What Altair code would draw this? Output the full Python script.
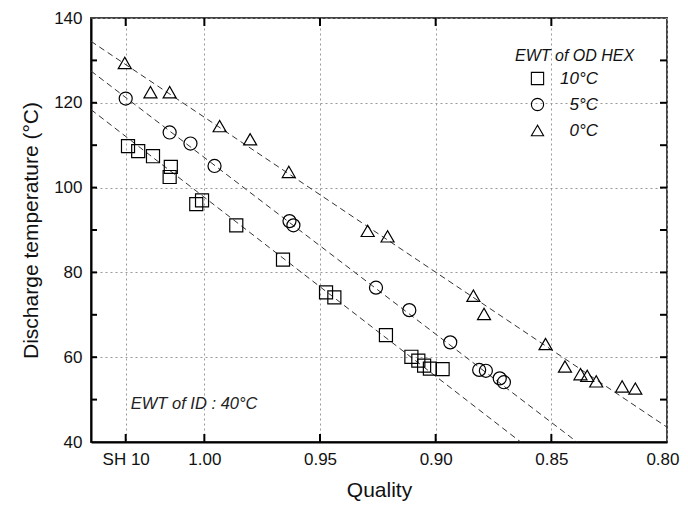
import altair as alt
import pandas as pd

# ---- data ----
series_labels = ["10°C", "5°C", "0°C"]

sq_q = [1.033, 1.0286, 1.0222, 1.0145, 1.015, 1.0035, 1.001, 0.9862, 0.966,
        0.9474, 0.9438, 0.9215, 0.9105, 0.9075, 0.905, 0.9025, 0.897]
sq_t = [109.8, 108.6, 107.4, 104.9, 102.5, 96.1, 97.0, 91.1, 83.0,
        75.3, 74.1, 65.2, 60.1, 59.2, 58.0, 57.3, 57.2]

ci_q = [1.034, 1.015, 1.006, 0.9956, 0.9632, 0.9615, 0.9258, 0.9114, 0.8937,
        0.8812, 0.8783, 0.8723, 0.8705]
ci_t = [121.0, 113.0, 110.4, 105.1, 92.1, 91.1, 76.4, 71.1, 63.5,
        57.0, 56.8, 55.0, 54.1]

tr_q = [1.0344, 1.0233, 1.015, 0.9934, 0.9802, 0.9635, 0.9294, 0.9208, 0.8837,
        0.8791, 0.8525, 0.8441, 0.8374, 0.8345, 0.8306, 0.8194, 0.8137]
tr_t = [129.4, 122.5, 122.5, 114.5, 111.4, 103.7, 89.8, 88.5, 74.5,
        70.2, 63.1, 57.8, 56.0, 55.6, 54.3, 53.1, 52.6]

# dashed fit lines (end points)
fit_q = [1.049, 0.80]
fit_sq = [118.4, 13.3]
fit_ci = [127.5, 23.8]
fit_tr = [134.5, 43.5]

x_tick_values = [1.034, 1.0, 0.95, 0.90, 0.85, 0.80]
y_tick_values = [40, 60, 80, 100, 120, 140]
y_minor_values = [50, 60, 70, 80, 90, 100, 110, 120, 130]

annotation_text = ["EWT of ID : 40°C"]
annotation_q = [1.0318]
annotation_t = [49.0]

# ---- tables ----
pts = pd.DataFrame({
    "q": sq_q + ci_q + tr_q,
    "t": sq_t + ci_t + tr_t,
    "s": [series_labels[0]] * len(sq_q) + [series_labels[1]] * len(ci_q) + [series_labels[2]] * len(tr_q),
})
fits = pd.DataFrame({
    "q": fit_q * 3,
    "t": fit_sq + fit_ci + fit_tr,
    "s": [series_labels[0]] * 2 + [series_labels[1]] * 2 + [series_labels[2]] * 2,
})
xt = pd.DataFrame({"q": x_tick_values[:-1]})
yt = pd.DataFrame({"t": y_minor_values})
ann = pd.DataFrame({"q": annotation_q, "t": annotation_t, "txt": annotation_text})

W, H = 576, 424
FONT = "Liberation Sans"

xs = alt.Scale(domain=[0.80, 1.049], reverse=True, nice=False, zero=False)
ys = alt.Scale(domain=[40, 140], nice=False, zero=False)

xaxis = alt.Axis(
    values=x_tick_values,
    labelExpr="datum.value > 1.01 ? 'SH 10' : format(datum.value, '.2f')",
    title="Quality", grid=True, ticks=False, labelFlush=True, labelFlushOffset=12,
    labelPadding=9, titlePadding=12,
)
yaxis = alt.Axis(
    values=y_tick_values, format="d",
    title="Discharge temperature (°C)", grid=True, ticks=False, labelFlush=False,
    labelPadding=9, titlePadding=12,
)

leg = alt.Legend(title="EWT of OD HEX", orient="none", legendX=424, legendY=30,
                 titleFontStyle="italic", titleFontWeight="normal", titleFontSize=16,
                 labelFontStyle="italic", labelFontSize=17, symbolSize=150,
                 symbolStrokeColor="black", symbolStrokeWidth=1.1, symbolOffset=14,
                 rowPadding=8, labelOffset=52, labelAlign="right", titlePadding=6,
                 titleFont=FONT, labelFont=FONT,
                 titleColor="#111", labelColor="#111")

points = alt.Chart(pts).mark_point(filled=False, color="black", strokeWidth=1.2, opacity=1, size=170).encode(
    x=alt.X("q:Q", scale=xs, axis=xaxis),
    y=alt.Y("t:Q", scale=ys, axis=yaxis),
    shape=alt.Shape("s:N", scale=alt.Scale(domain=series_labels, range=["square", "circle", "triangle-up"]),
                    sort=series_labels, legend=leg),
)

lines = alt.Chart(fits).mark_line(color="#333333", strokeDash=[6, 4], strokeWidth=1, clip=True).encode(
    x=alt.X("q:Q", scale=xs, axis=xaxis),
    y=alt.Y("t:Q", scale=ys, axis=yaxis),
    detail="s:N",
)

top_ticks = alt.Chart(xt).mark_rule(color="black", strokeWidth=2).encode(
    x=alt.X("q:Q", scale=xs, axis=xaxis), y=alt.value(0), y2=alt.value(8))
bot_ticks = alt.Chart(xt).mark_rule(color="black", strokeWidth=2).encode(
    x=alt.X("q:Q", scale=xs, axis=xaxis), y=alt.value(H), y2=alt.value(H - 8))
left_ticks = alt.Chart(yt).mark_rule(color="black", strokeWidth=2).encode(
    y=alt.Y("t:Q", scale=ys, axis=yaxis), x=alt.value(0), x2=alt.value(6))
right_ticks = alt.Chart(yt).mark_rule(color="black", strokeWidth=2).encode(
    y=alt.Y("t:Q", scale=ys, axis=yaxis), x=alt.value(W), x2=alt.value(W - 7))

annot = alt.Chart(ann).mark_text(align="left", baseline="middle", fontStyle="italic", fontSize=16.5,
                                 font=FONT, color="#222").encode(
    x=alt.X("q:Q", scale=xs, axis=xaxis), y=alt.Y("t:Q", scale=ys, axis=yaxis), text="txt:N")

chart = alt.layer(lines, top_ticks, bot_ticks, left_ticks, right_ticks, annot, points).properties(
    width=W, height=H,
    autosize=alt.AutoSizeParams(type="none"),
    padding={"left": 83, "top": 10, "right": 13, "bottom": 59},
).configure(font=FONT).configure_view(
    stroke="#444444", strokeWidth=2
).configure_axis(
    labelFont=FONT, titleFont=FONT, labelFontSize=17, titleFontSize=21, titleFontWeight="normal",
    labelColor="#111", titleColor="#111",
    domainColor="black", domainWidth=2,
    gridColor="#999999", gridDash=[2, 3], gridWidth=1,
)

chart.save("out.html", embed_options={"renderer": "svg", "actions": False})
